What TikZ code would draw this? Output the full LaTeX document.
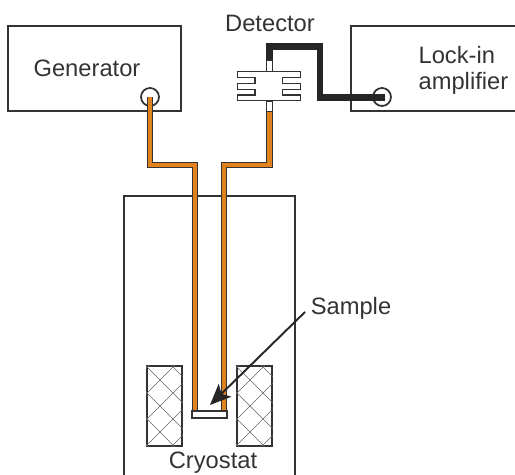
\documentclass[tikz,border=0pt]{standalone}
\usepackage{xcolor}
\usepackage{fontspec}
\setmainfont{Liberation Sans}
\usetikzlibrary{arrows.meta,calc}

\definecolor{linegray}{HTML}{333333}
\definecolor{cableorange}{HTML}{E0821E}
\tikzset{
    box/.style={draw=linegray, rectangle, line width=1.05pt, inner sep=0pt},
    lbl/.style={inner sep=0pt, text=linegray, font=\fontsize{13.5}{15.2}\selectfont},
    cable/.style={draw=linegray, line width=0.4pt, double=cableorange, double distance=2.7pt},
    blackcable/.style={draw=black!85, line width=3.6pt},
    port/.style={draw=linegray, circle, line width=1pt, minimum size=0.36cm, inner sep=0pt},
    stubbox/.style={box, fill=white, line width=0.7pt, minimum width=0.13cm, minimum height=0.21cm}
}

\begin{document}
\begin{tikzpicture}[x=0.02cm, y=-0.02cm, node distance=2cm]
    \useasboundingbox (0,0) rectangle (515,475);

    % instruments
    \node[box, minimum width=3.46cm, minimum height=1.7cm] (generator) at (94.5,68.5) {};
    \node[box, minimum width=3.4cm, minimum height=1.7cm, right of=generator, xshift=4.83cm] (lockin) {};
    \node[lbl, xshift=-0.15cm] (generatorlabel) at (generator) {Generator};
    \node[lbl, align=left, xshift=0.55cm, yshift=-0.04cm] (lockinlabel) at (lockin) {Lock-in\\amplifier};
    \node[port] (genport) at (150,97) {};
    \node[port] (lockinport) at (382,97) {};

    % cryostat, open at the bottom
    \draw[linegray, line width=1.05pt] (124,475) |- (295,196) -- (295,475);
    \node[box, minimum width=0.7cm, minimum height=1.6cm] (coilleft) at (164.5,406) {};
    \node[box, minimum width=0.7cm, minimum height=1.6cm, right of=coilleft, xshift=-0.2cm] (coilright) {};
    \foreach \coil in {coilleft, coilright} {
        \begin{scope}
            \clip (\coil.south west) rectangle (\coil.north east);
            \foreach \k in {-4,...,4} {
                \draw[black!60, line width=0.35pt] ($(\coil.center)+(-17.5+\k*26-80,-93)$) -- ++(160,160);
                \draw[black!60, line width=0.35pt] ($(\coil.center)+(-17.5+\k*26-80,67)$) -- ++(160,-160);
            }
        \end{scope}
    }

    % detector
    \node[stubbox] (stubtop) at (269.5,66) {};
    \node[stubbox] (stubbottom) at (269.5,106.5) {};
    \draw[linegray, fill=white, line width=0.9pt]
        (237.5,71.5) -- (300.5,71.5) -- (300.5,77.5) -- (282.5,77.5) -- (282.5,83.5) -- (300.5,83.5)
        -- (300.5,89.5) -- (282.5,89.5) -- (282.5,95) -- (300.5,95) -- (300.5,100.5)
        -- (237.5,100.5) -- (237.5,95) -- (255,95) -- (255,89.5) -- (237.5,89.5)
        -- (237.5,83.5) -- (255,83.5) -- (255,77.5) -- (237.5,77.5) -- cycle;

    % cables
    \coordinate (leftend) at (195,411);
    \coordinate (rightend) at (224,411);
    \coordinate (blackend) at (385,97.5);
    \draw[cable] (genport.center) |- (195,165) -- (leftend);
    \draw[cable] (stubbottom.south) |- (224,165) -- (rightend);
    \draw[blackcable] (stubtop.north) |- (320,46.5) |- (blackend);

    % sample holder
    \node[box, fill=white, minimum width=0.7cm, minimum height=0.13cm] (holder) at (209.5,414.5) {};

    \node[lbl] (detectorlabel) at (270,23.5) {Detector};
    \node[lbl] (cryostatlabel) at (213,463) {Cryostat};
    \node[lbl] (samplelabel) at (351,308.5) {Sample};
    \coordinate (arrowstart) at (305,312);
    \coordinate (arrowtip) at (210,405);
    \draw[-{Stealth[length=0.42cm, width=0.36cm, inset=0.1cm]}, draw=black!85, fill=black!85, line width=1.1pt] (arrowstart) -- (arrowtip);
\end{tikzpicture}
\end{document}
